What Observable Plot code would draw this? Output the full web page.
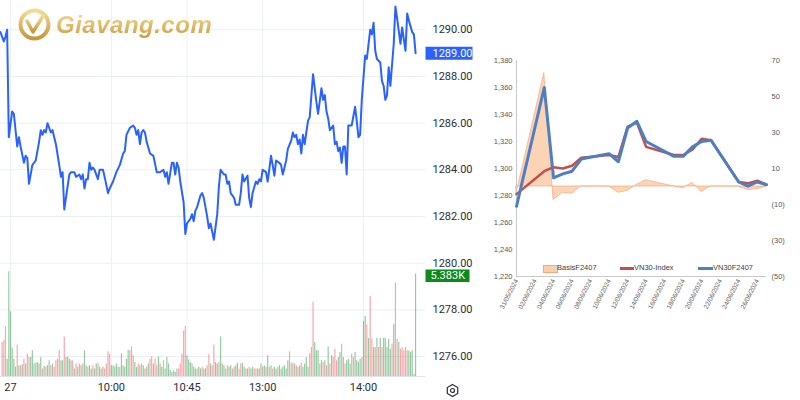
<!DOCTYPE html>
<html><head><meta charset="utf-8">
<script src="https://cdn.jsdelivr.net/npm/d3@7"></script>
<script src="https://cdn.jsdelivr.net/npm/@observablehq/plot@0.6"></script>
<style>
body{margin:0;background:#fff;}
#wrap{position:relative;width:800px;height:400px;overflow:hidden;background:#fff;}
.lg{position:absolute;font:7.5px "Liberation Sans",Arial,sans-serif;color:#404040;white-space:nowrap;line-height:8px;}
</style></head><body><div id="wrap">
<div id="left" style="position:absolute;left:0;top:0;width:478px;height:400px"></div>
<div id="right" style="position:absolute;left:478px;top:0;width:322px;height:400px"></div>
</div>
<script>
// ---------- LEFT: intraday VN30F chart ----------
// [trading minutes since 09:00, price]
const pricePoints = [[-6,1289.9],[-4,1289.5],[-3,1289.7],[-2,1290.0],[-1,1285.4],[1,1286.5],[2,1286.4],[4,1285.0],[5,1285.4],[6,1285.0],
[8,1284.3],[9,1284.6],[10,1284.5],[11,1283.4],[13,1284.2],[15,1284.4],[17,1285.2],[18,1285.7],[19,1285.5],[20,1285.7],
[21,1285.6],[22,1286.0],[24,1285.6],[25,1285.7],[27,1285.1],[29,1284.2],[30,1283.7],[31,1283.9],[32,1282.3],[35,1283.8],
[36,1283.9],[38,1283.9],[39,1283.7],[41,1283.8],[42,1283.6],[43,1283.8],[44,1283.2],[45,1283.6],[46,1283.6],[47,1284.3],
[48,1284.0],[49,1284.1],[50,1284.0],[52,1283.6],[53,1284.0],[55,1284.0],[56,1283.7],[58,1283.0],[59,1283.2],[61,1283.5],
[63,1283.9],[65,1284.2],[67,1284.7],[68,1284.8],[69,1285.5],[71,1285.8],[73,1285.9],[74,1285.8],[75,1285.5],[76,1285.7],
[77,1285.1],[78,1285.6],[79,1285.7],[80,1285.6],[81,1285.2],[83,1284.7],[85,1284.6],[87,1283.9],[89,1283.9],[91,1284.0],
[92,1283.7],[93,1283.9],[94,1283.4],[96,1284.3],[97,1284.3],[98,1283.8],[99,1284.3],[100,1284.1],[101,1283.5],[103,1282.6],
[104,1281.25],[105,1281.7],[107,1281.9],[108,1282.1],[109,1281.8],[110,1282.25],[111,1282.4],[113,1282.9],[114,1283.0],[115,1282.8],
[117,1282.0],[118,1281.5],[119,1281.7],[121,1281.0],[123,1282.1],[124,1283.3],[125,1284.0],[127,1283.8],[128,1283.8],[129,1283.4],
[130,1283.5],[131,1283.0],[133,1282.8],[134,1282.5],[136,1282.5],[137,1283.0],[138,1283.8],[139,1283.5],[141,1283.75],[142,1282.8],
[143,1282.4],[144,1283.0],[146,1283.5],[147,1283.4],[148,1283.6],[149,1283.5],[150,1284.0],[152,1283.9],[153,1283.5],[155,1284.6],
[156,1284.2],[157,1283.75],[158,1284.4],[160,1284.3],[161,1284.2],[162,1283.8],[164,1284.4],[165,1284.9],[167,1285.25],[168,1285.6],
[169,1285.4],[170,1285.5],[171,1285.1],[172,1285.3],[173,1284.7],[174,1285.5],[175,1285.1],[176,1285.6],[177,1286.1],[178,1286.25],
[180,1288.1],[181,1287.5],[182,1286.9],[183,1286.4],[185,1287.5],[186,1287.0],[187,1287.2],[188,1286.5],[189,1286.2],[190,1285.7],
[192,1285.9],[193,1285.1],[194,1285.2],[195,1284.8],[196,1284.95],[197,1284.3],[198,1285.0],[199,1285.0],[200,1283.8],[201,1285.9],
[203,1285.9],[205,1286.7],[206,1286.1],[207,1285.4],[208,1285.5],[209,1287.0],[211,1288.9],[212,1288.75],[214,1290.0],[215,1289.8],
[216,1290.3],[217,1289.1],[218,1288.75],[220,1288.6],[221,1287.8],[222,1287.6],[223,1287.0],[224,1287.2],[225,1288.4],[226,1287.6],
[228,1289.4],[229,1291.0],[230,1290.5],[232,1289.4],[233,1290.1],[234,1289.6],[235,1289.1],[236,1290.7],[237,1290.4],[239,1289.9],
[240,1289.8],[241,1289.0]];

// volume per minute (K contracts), first bar = minute -5
const volumeK = [1.78,1.9,2.6,0.9,5.5,3.4,1.5,0.9,0.5,1.65,
0.57,0.57,0.62,0.9,0.66,1.17,1.0,1.0,1.35,0.66,
0.69,0.74,0.66,1.0,0.4,0.52,0.48,0.57,0.83,0.57,
0.66,0.48,0.83,0.91,1.38,0.83,0.83,2.07,1.0,1.03,
0.91,0.83,0.83,0.4,0.66,0.48,0.66,0.57,0.66,1.35,
0.57,0.48,0.57,0.4,0.57,0.4,0.66,0.69,0.48,0.4,
0.48,0.4,0.66,1.3,1.17,0.57,0.57,0.48,0.66,0.48,
0.48,1.2,0.57,0.48,0.91,1.38,1.35,1.55,1.09,0.74,
0.48,0.66,0.57,0.66,0.57,0.4,0.48,0.66,0.91,1.03,
0.66,0.91,0.57,1.03,0.66,0.48,0.83,0.4,1.0,0.66,
0.31,0.22,0.31,0.22,0.4,0.4,0.66,1.17,2.38,2.64,
1.09,0.86,0.74,0.66,0.48,0.4,0.4,0.48,0.4,0.48,
0.4,0.4,0.57,1.14,0.66,0.57,1.65,0.74,0.66,0.74,
2.07,0.66,0.57,0.4,0.57,0.48,0.57,0.4,0.48,0.57,
0.69,0.4,0.66,0.69,0.48,0.4,0.4,0.48,0.4,0.48,
0.4,0.4,0.4,0.4,0.66,0.48,0.57,0.48,1.09,0.48,
0.57,0.4,0.48,0.4,0.48,0.57,0.4,0.48,0.57,0.4,
0.83,1.3,0.69,0.69,0.66,0.57,0.48,0.57,0.69,0.48,
0.66,1.0,0.48,1.2,1.52,3.9,1.78,1.35,1.35,0.66,
0.83,0.74,0.83,0.57,1.55,0.66,1.09,1.0,1.43,0.83,
1.0,1.26,1.7,1.0,0.66,0.83,0.91,0.66,1.17,1.0,
1.26,0.83,0.74,0.91,1.0,2.9,3.15,2.7,2.0,4.2,
1.95,1.52,1.52,2.0,1.52,2.0,1.52,2.0,2.0,1.52,
1.95,1.43,1.7,2.75,4.9,1.95,1.78,1.43,1.52,1.35,
1.52,1.35,1.35,1.26,1.35,0.1,5.383];
const volumeDir = "rrrggggggr"+"grgrgrrggg"+"rgggrgrggr"+"grrrrggrgg"+"ggrgrgrgrg"+
"grggrggrgr"+"grrrrggggg"+"rgggggrrrg"+"grgrggrgrr"+"grrgggrggg"+
"ggrggrrrrr"+"ggggggrggr"+"ggrrgrrggr"+"gggrrggrgg"+"grrggrgrgg"+
"rrgggrgggr"+"grggrgggg"+"ggrrgrgrgr"+"ggggrrrgg"+"grgrgrgrgr"+
"rrggrgrggg"+"rrggggrggr"+"grrgrgrgr"+"gggggrgrrg"+"rrrrrgg";

const timeTicks = [0, 60, 105, 150, 210];
const timeLabels = ["27", "10:00", "10:45", "13:00", "14:00"];
const priceTicks = [1276, 1278, 1280, 1282, 1284, 1286, 1288, 1290];
const lastPrice = 1289.00;
const lastVolumeK = 5.383;

// ---------- RIGHT: VN30 vs VN30F2407 ----------
const tradeDates = ["2024-05-31","2024-06-03","2024-06-04","2024-06-05","2024-06-06","2024-06-07","2024-06-10","2024-06-11","2024-06-12","2024-06-13",
"2024-06-14","2024-06-17","2024-06-18","2024-06-19","2024-06-20","2024-06-21","2024-06-24","2024-06-25","2024-06-26","2024-06-27"];
const vn30Index = [1281,1298,1301,1300,1302,1308,1310,1308.5,1331,1334,1316,1310,1310,1314,1322,1321,1290,1289,1291,1288];
const vn30F2407 = [1272,1360,1293,1296,1298,1307,1311,1305,1330,1335,1320,1309,1309,1316,1320,1321,1290,1287,1290,1288];
const basisF2407 = [-4,63,-7.5,-3.5,-4,0,0,-3.5,-2.5,1,3.5,0,-1,2,-3,0,0,-2,-1.5,0];
const dateTicks = ["2024-05-31","2024-06-02","2024-06-04","2024-06-06","2024-06-08","2024-06-10","2024-06-12","2024-06-14","2024-06-16","2024-06-18","2024-06-20","2024-06-22","2024-06-24","2024-06-26"];
const leftTicks = [1220,1240,1260,1280,1300,1320,1340,1360,1380];
const rightTicks = [-50,-30,-10,10,30,50,70];
const legendLabels = ["BasisF2407","VN30-Index","VN30F2407"];

// ================= build left =================
const L = document.getElementById("left");
const xDom = [-5.95, 246.9];
const layerStyle = {position:"absolute", left:"0px", top:"0px", background:"transparent", fontFamily:"Roboto, sans-serif", overflow:"visible"};

const pricePlot = Plot.plot({
  width:478, height:400, marginLeft:0, marginRight:53, marginTop:0, marginBottom:24,
  x:{domain:xDom, label:null}, y:{domain:[1275.145, 1291.255], label:null},
  style:layerStyle,
  marks:[
    Plot.gridY(priceTicks, {stroke:"#eceff4", strokeOpacity:1}),
    Plot.gridX(timeTicks, {stroke:"#eceff4", strokeOpacity:1}),
    Plot.ruleY([1275.145], {stroke:"#e0e3eb"}),
    Plot.axisY(priceTicks, {anchor:"right", label:null, tickSize:0, tickPadding:7, fontSize:11, fill:"#2a2e39", tickFormat:d=>d.toFixed(2)}),
    Plot.axisX(timeTicks, {label:null, tickSize:0, tickPadding:7, fontSize:11, fill:"#2a2e39", tickFormat:d=>timeLabels[timeTicks.indexOf(d)]}),
    Plot.line(pricePoints, {x:d=>d[0], y:d=>d[1], stroke:"#2962ff", strokeWidth:2, strokeLinejoin:"round"}),
    Plot.dot([lastPrice], {y:d=>d, frameAnchor:"right", fill:"#2962ff", stroke:null,
      symbol:{draw(ctx){ctx.moveTo(0,-6.5);ctx.lineTo(47,-6.5);ctx.lineTo(47,6.5);ctx.lineTo(0,6.5);ctx.closePath();}}}),
    Plot.text([lastPrice], {y:d=>d, frameAnchor:"right", dx:7, textAnchor:"start", text:d=>d.toFixed(2), fill:"white", fontSize:11})
  ]
});
L.appendChild(pricePlot);

const volRows = volumeK.map((v,i)=>({m:i-5, v, dir:volumeDir[i] || "g"}));
const volPlot = Plot.plot({
  width:478, height:400, marginLeft:0, marginRight:53, marginTop:273.5, marginBottom:24,
  x:{domain:xDom, axis:null}, y:{domain:[0, lastVolumeK], axis:null},
  style:layerStyle,
  marks:[
    Plot.ruleX(volRows, {x:"m", y1:0, y2:"v", stroke:d=>d.dir==="g" ? "#3b9d4c" : "#ee5b66", strokeOpacity:0.55, strokeWidth:1.15}),
    Plot.dot([lastVolumeK], {y:d=>d, dy:1.5, frameAnchor:"right", fill:"#0b8a1e", stroke:null,
      symbol:{draw(ctx){ctx.moveTo(0,-6);ctx.lineTo(44,-6);ctx.lineTo(44,6.5);ctx.lineTo(0,6.5);ctx.closePath();}}}),
    Plot.text([lastVolumeK], {y:d=>d, dy:1.5, frameAnchor:"right", dx:5, textAnchor:"start", text:d=>d.toFixed(3)+"K", fill:"white", fontSize:11})
  ]
});
L.appendChild(volPlot);

// watermark logo
const logo = document.createElement("div");
logo.style.cssText = "position:absolute;left:18px;top:8px;display:flex;align-items:center;gap:5px;opacity:0.92";
logo.innerHTML = '<svg width="33" height="33" viewBox="0 0 33 33"><defs><linearGradient id="gg" x1="0" y1="0" x2="0" y2="1"><stop offset="0" stop-color="#f4d98c"/><stop offset="1" stop-color="#c18f2d"/></linearGradient></defs>'+
 '<circle cx="16.5" cy="16.5" r="14" fill="none" stroke="url(#gg)" stroke-width="4"/>'+
 '<path d="M9 13 L15 24 L25 8" fill="none" stroke="url(#gg)" stroke-width="3.5" stroke-linejoin="round" stroke-linecap="round"/></svg>'+
 '<span style="font:italic bold 24px \'Liberation Sans\',Arial,sans-serif;letter-spacing:0.5px;background:linear-gradient(#f6dc90,#c4922e);-webkit-background-clip:text;background-clip:text;color:transparent">Giavang.com</span>';
L.appendChild(logo);

// settings gear
const gear = document.createElement("div");
gear.style.cssText = "position:absolute;left:445px;top:383px;width:15px;height:15px";
gear.innerHTML = '<svg width="15" height="15" viewBox="0 0 15 15"><path d="M7.5 1.5 L12.7 4.5 L12.7 10.5 L7.5 13.5 L2.3 10.5 L2.3 4.5 Z" fill="none" stroke="#2a2e39" stroke-width="1.2"/><circle cx="7.5" cy="7.5" r="2" fill="none" stroke="#2a2e39" stroke-width="1.2"/></svg>';
L.appendChild(gear);

// ================= build right =================
const R = document.getElementById("right");
const rows = tradeDates.map((d,i)=>({date:new Date(d), idx:vn30Index[i], fut:vn30F2407[i], basis:basisF2407[i]}));
const xDomR = [new Date("2024-05-31"), new Date("2024-06-27")];
const rStyle = {position:"absolute", left:"0px", top:"0px", background:"transparent", fontFamily:"'Liberation Sans', Arial, sans-serif", overflow:"visible"};
const common = {width:322, height:400, marginLeft:38, marginRight:34, marginTop:60, marginBottom:124, style:rStyle};

const areaPlot = Plot.plot({
  ...common,
  x:{type:"utc", domain:xDomR, axis:null, label:null},
  y:{domain:[-50,70], label:null},
  marks:[
    Plot.areaY(rows, {x:"date", y:"basis", fill:"#fbcfad", fillOpacity:0.9, stroke:"#f3a97f", strokeWidth:0.7}),
    Plot.axisY(rightTicks, {anchor:"right", label:null, tickSize:0, tickPadding:5, fontSize:7.5, fill:"#595959", tickFormat:d=>d<0 ? "("+(-d)+")" : String(d)})
  ]
});
R.appendChild(areaPlot);

const linePlot = Plot.plot({
  ...common,
  x:{type:"utc", domain:xDomR, label:null},
  y:{domain:[1220,1380], label:null},
  marks:[
    Plot.ruleX([xDomR[0]], {stroke:"#c8c8c8"}),
    Plot.ruleY([1220], {stroke:"#c8c8c8"}),
    Plot.axisY(leftTicks, {anchor:"left", label:null, tickSize:0, tickPadding:4, fontSize:7.5, fill:"#595959", tickFormat:d3.format(",")}),
    Plot.axisX(dateTicks.map(d=>new Date(d)), {label:null, tickSize:0, tickPadding:3, tickRotate:-63, fontSize:6.5, fill:"#595959", tickFormat:d3.utcFormat("%d/%m/%Y")}),
    Plot.line(rows, {x:"date", y:"idx", stroke:"#c0504d", strokeWidth:2.5}),
    Plot.line(rows, {x:"date", y:"fut", stroke:"#4f7fc0", strokeWidth:3})
  ]
});
R.appendChild(linePlot);

// legend (inside plot area)
const lg = [
  {sw:'<div style="position:absolute;left:65px;top:265px;width:13px;height:6px;background:#fbcfad;border:0.5px solid #f3a97f"></div>', x:79, label:legendLabels[0]},
  {sw:'<div style="position:absolute;left:142px;top:267px;width:14px;height:2.5px;background:#c0504d"></div>', x:156, label:legendLabels[1]},
  {sw:'<div style="position:absolute;left:220px;top:267px;width:15px;height:3px;background:#4f7fc0"></div>', x:235, label:legendLabels[2]}
];
lg.forEach(o=>{
  R.insertAdjacentHTML("beforeend", o.sw);
  const t = document.createElement("div");
  t.className = "lg"; t.style.left = o.x+"px"; t.style.top = "264px"; t.textContent = o.label;
  R.appendChild(t);
});
</script>
</body></html>
